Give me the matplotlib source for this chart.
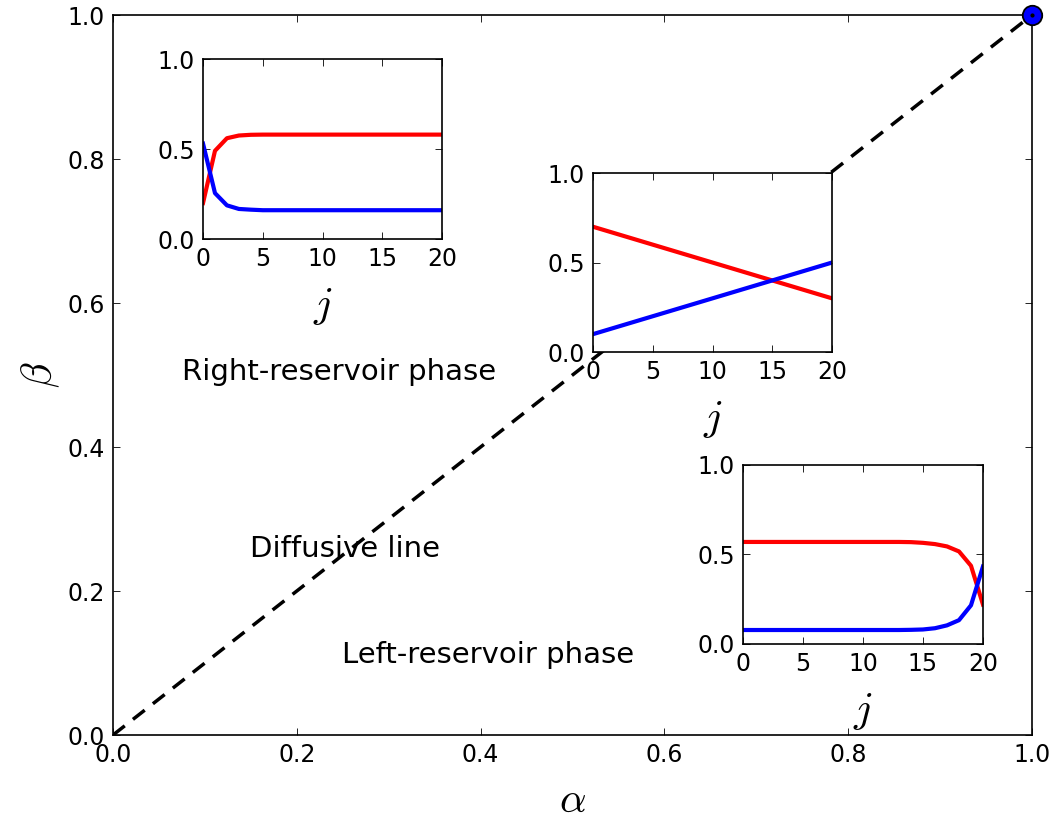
import matplotlib
matplotlib.use("Agg")
import matplotlib.pyplot as plt

plt.rcParams['font.family'] = ['DejaVu Sans']
plt.rcParams['mathtext.fontset'] = 'cm'
plt.rcParams['font.size'] = 17
plt.rcParams['xtick.direction'] = 'in'
plt.rcParams['ytick.direction'] = 'in'
plt.rcParams['xtick.top'] = True
plt.rcParams['ytick.right'] = True
plt.rcParams['xtick.major.size'] = 5
plt.rcParams['ytick.major.size'] = 5
plt.rcParams['xtick.major.width'] = 0.6
plt.rcParams['ytick.major.width'] = 0.6
plt.rcParams['xtick.major.pad'] = 6
plt.rcParams['ytick.major.pad'] = 6
plt.rcParams['axes.linewidth'] = 1.2

# diagonal (diffusive line) and the special point
diag_alpha = [0.0, 1.0]
diag_beta = [0.0, 1.0]
point_alpha = [1.0]
point_beta = [1.0]

# region labels: (text, alpha, beta)
region_texts = ["Right-reservoir phase", "Diffusive line", "Left-reservoir phase"]
region_alpha = [0.246, 0.252, 0.408]
region_beta = [0.504, 0.258, 0.111]

# inset 1: right-reservoir profile
j1 = list(range(21))
red1 = [0.20, 0.49, 0.56, 0.575, 0.579] + [0.58] * 16
blue1 = [0.53, 0.255, 0.187, 0.167, 0.163] + [0.16] * 16

# inset 2: diffusive line profile
j2 = [0, 20]
red2 = [0.70, 0.30]
blue2 = [0.10, 0.50]

# inset 3: left-reservoir profile
j3 = list(range(21))
red3 = [0.57] * 14 + [0.569, 0.565, 0.558, 0.545, 0.517, 0.437, 0.22]
blue3 = [0.078] * 14 + [0.079, 0.081, 0.088, 0.104, 0.133, 0.216, 0.433]

fig = plt.figure(figsize=(10.58, 8.36), dpi=100)
ax = fig.add_axes([0.1068, 0.1208, 0.8686, 0.8612])
ax.plot(diag_alpha, diag_beta, 'k', lw=2.5, dashes=(4.3, 3.0))
ax.plot(point_alpha, point_beta, 'o', color='blue', mec='black', mew=1.3,
        ms=14, clip_on=False, zorder=5)
ax.plot(point_alpha, point_beta, '.', color='black', ms=4, clip_on=False, zorder=6)
for txt, a, b in zip(region_texts, region_alpha, region_beta):
    ax.text(a, b, txt, ha='center', va='center', fontsize=21)
ax.set_xlim(0, 1)
ax.set_ylim(0, 1)
ax.set_xticks([0, 0.2, 0.4, 0.6, 0.8, 1.0])
ax.set_yticks([0, 0.2, 0.4, 0.6, 0.8, 1.0])
ax.set_xlabel(r'$\alpha$', fontsize=30, labelpad=8)
ax.set_ylabel(r'$\beta$', fontsize=30, labelpad=4)

insets = [
    ([0.1919, 0.7141, 0.2259, 0.2153], j1, red1, blue1),
    ([0.5605, 0.5789, 0.2259, 0.2141], j2, red2, blue2),
    ([0.7023, 0.2297, 0.2268, 0.2141], j3, red3, blue3),
]
for rect, j, r, b in insets:
    axi = fig.add_axes(rect)
    axi.plot(j, r, color='red', lw=3)
    axi.plot(j, b, color='blue', lw=3)
    axi.set_xlim(0, 20)
    axi.set_ylim(0, 1)
    axi.set_xticks([0, 5, 10, 15, 20])
    axi.set_yticks([0, 0.5, 1.0])
    axi.set_xlabel(r'$j$', fontsize=31, labelpad=10)

fig.savefig("out.png", dpi=100)
